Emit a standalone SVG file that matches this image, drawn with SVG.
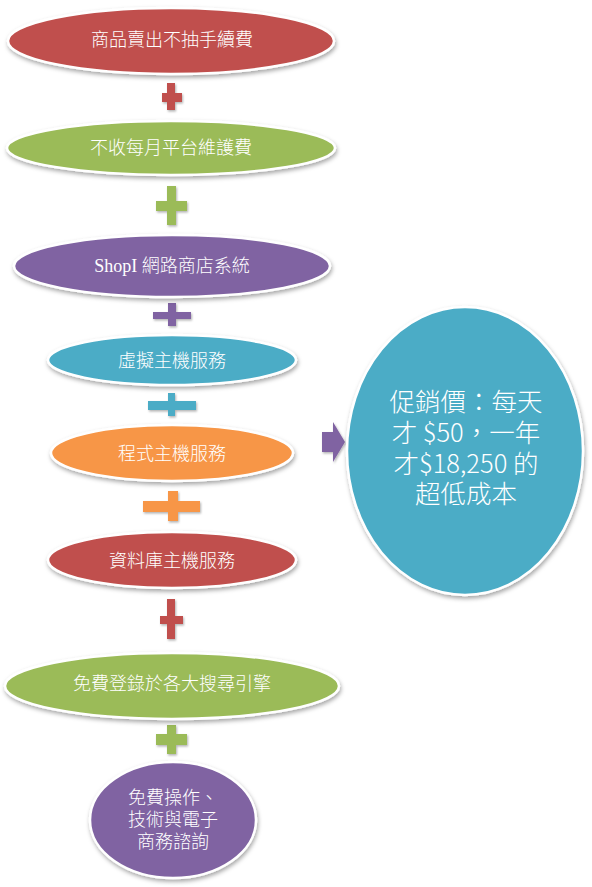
<svg xmlns="http://www.w3.org/2000/svg" width="592" height="887" viewBox="0 0 592 887">
<defs>
<filter id="sh" x="-10%" y="-10%" width="125%" height="130%">
<feDropShadow dx="1" dy="2.5" stdDeviation="2" flood-color="#000" flood-opacity="0.35"/>
</filter>
<filter id="sh2" x="-20%" y="-20%" width="150%" height="150%">
<feDropShadow dx="1" dy="1.5" stdDeviation="1" flood-color="#000" flood-opacity="0.3"/>
</filter>
</defs>
<style>
.n{stroke:#fff;stroke-width:2.5;filter:url(#sh)}
.t{font-family:"Noto Sans CJK TC","Noto Sans CJK SC",sans-serif;font-size:18px;font-weight:300;fill:#fff;text-anchor:middle}
.big{font-size:25.5px}
.red{fill:#C0504D}.green{fill:#9BBB59}.purple{fill:#8064A2}.cyan{fill:#4BACC6}.orange{fill:#F79646}
.p{filter:url(#sh2)}
</style>
<rect width="592" height="887" fill="#fff"/>

<g id="connectors">
<path class="p red" d="M167 83h8v10h7v9h-7v8h-8v-8h-5v-9h5z"/>
<path class="p green" d="M167 186h9v15h11v10h-11v14h-9v-14h-11v-10h11z"/>
<path class="p purple" d="M168 303h8v9h15v7h-15v7h-8v-7h-15v-7h15z"/>
<path class="p cyan" d="M168 393h7v8h21v9h-21v6h-7v-6h-20v-9h20z"/>
<path class="p orange" d="M168 491h10v10h22v11h-22v9h-10v-9h-25v-11h25z"/>
<path class="p red" d="M167 599h8v17h8v8h-8v15h-8v-15h-7v-8h7z"/>
<path class="p green" d="M167 725h9v9h11v11h-11v9h-9v-9h-11v-11h11z"/>
<path class="p purple" d="M322 432h11v-10l12 20l-12 20v-10h-11z"/>
</g>

<g id="n1">
<ellipse class="n red" cx="171" cy="41" rx="163" ry="33"/>
<text class="t" x="172" y="46">商品賣出不抽手續費</text>
</g>
<g id="n2">
<ellipse class="n green" cx="171" cy="148" rx="164" ry="27"/>
<text class="t" x="171" y="154">不收每月平台維護費</text>
</g>
<g id="n3">
<ellipse class="n purple" cx="172" cy="266" rx="158" ry="31"/>
<text class="t" x="172" y="272"><tspan font-family="Liberation Serif, serif">ShopI </tspan>網路商店系統</text>
</g>
<g id="n4">
<ellipse class="n cyan" cx="172" cy="360" rx="124" ry="25"/>
<text class="t" x="172" y="367">虛擬主機服務</text>
</g>
<g id="n5">
<ellipse class="n orange" cx="172" cy="453" rx="121" ry="28"/>
<text class="t" x="172" y="460">程式主機服務</text>
</g>
<g id="n6">
<ellipse class="n red" cx="172" cy="560" rx="124" ry="28"/>
<text class="t" x="172" y="567">資料庫主機服務</text>
</g>
<g id="n7">
<ellipse class="n green" cx="172" cy="686" rx="167" ry="33"/>
<text class="t" x="172" y="690">免費登錄於各大搜尋引擎</text>
</g>
<g id="n8">
<ellipse class="n purple" cx="173" cy="820" rx="83" ry="58"/>
<text class="t" x="173" y="804">免費操作、<tspan x="173" dy="22">技術與電子</tspan><tspan x="173" dy="22">商務諮詢</tspan></text>
</g>
<g id="n9">
<ellipse class="n cyan" cx="465" cy="451" rx="118" ry="144"/>
<text class="t big" x="466" y="411">促銷價：每天<tspan x="466" dy="31">才 $50，一年</tspan><tspan x="466" dy="31">才$18,250 的</tspan><tspan x="466" dy="30">超低成本</tspan></text>
</g>
</svg>
